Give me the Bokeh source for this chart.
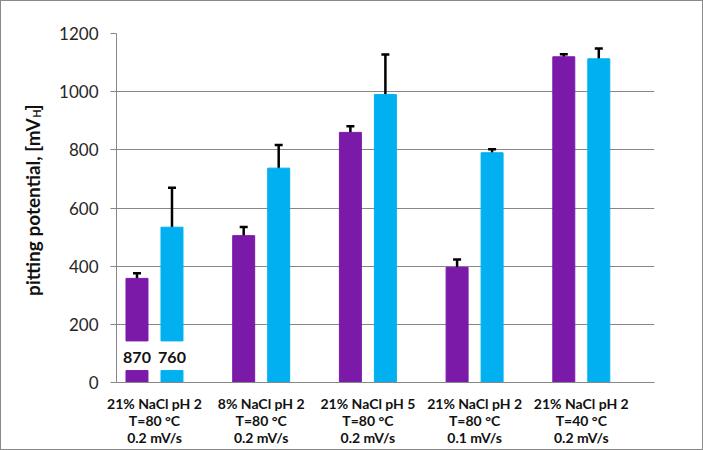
import math
from bokeh.plotting import figure
from bokeh.layouts import row
from bokeh.models import ColumnDataSource, Whisker, TeeHead, FixedTicker, Range1d
from bokeh.core.properties import value
from bokeh.embed import file_html
from bokeh.resources import INLINE

# ---------------- data ----------------
categories = [
    "21% NaCl pH 2\nT=80 °C\n0.2 mV/s",
    "8% NaCl pH 2\nT=80 °C\n0.2 mV/s",
    "21% NaCl pH 5\nT=80 °C\n0.2 mV/s",
    "21% NaCl pH 2\nT=80 °C\n0.1 mV/s",
    "21% NaCl pH 2\nT=40 °C\n0.2 mV/s",
]
# drawn bar heights (first group is shown with a broken bar, true values labelled)
purple_values = [358, 505, 860, 396, 1120]
cyan_values = [534, 737, 990, 790, 1113]
purple_err = [18, 30, 21, 27, 9]
cyan_err = [136, 80, 138, 12, 35]
break_labels_purple = ["870", "", "", "", ""]
break_labels_cyan = ["760", "", "", "", ""]
break_low = 41     # top of lower bar segment in the broken group
break_high = 143   # bottom of upper bar segment in the broken group
y_ticks = [0, 200, 400, 600, 800, 1000, 1200]
y_title = "pitting potential, [mV"
y_title_sub = "H"
y_title_end = "]"

PURPLE = "#7B1AA9"
CYAN = "#00B0F0"
GRID = "#878787"
FONT = "Lato"
TXT = "#111111"

TOTAL_H = 448
LAB_W = 46
MAIN_W = 655

# ---------------- y-axis title panel ----------------
lab = figure(width=LAB_W, height=TOTAL_H, output_backend="svg", toolbar_location=None,
             x_range=Range1d(0, LAB_W), y_range=Range1d(0, TOTAL_H),
             x_axis_type=None, y_axis_type=None, min_border=0)
lab.outline_line_color = None
lab.grid.grid_line_color = None
ang = math.pi / 2
lab.text(x=[30.5], y=[339], text=[y_title], angle=ang, text_align="right",
         text_baseline="alphabetic", text_font=value(FONT), text_font_style="bold",
         text_font_size="19px", text_color=TXT)
lab.text(x=[35], y=[340], text=[y_title_sub], angle=ang, text_align="left",
         text_baseline="alphabetic", text_font=value(FONT), text_font_style="bold",
         text_font_size="11px", text_color=TXT)
lab.text(x=[30.5], y=[349], text=[y_title_end], angle=ang, text_align="left",
         text_baseline="alphabetic", text_font=value(FONT), text_font_style="bold",
         text_font_size="19px", text_color=TXT)

# ---------------- main chart ----------------
p = figure(width=MAIN_W, height=TOTAL_H, output_backend="svg", toolbar_location=None,
           x_range=Range1d(-0.356, 4.686), y_range=Range1d(0, 1200),
           min_border_left=69, min_border_right=48, min_border_top=32,
           min_border_bottom=66)
p.outline_line_color = None

n = len(categories)
xs = list(range(n))
off = 0.164
bw = 0.206

is_broken = [lbl != "" for lbl in break_labels_purple]
bottom_main = [break_high if b else 0 for b in is_broken]

src = ColumnDataSource(dict(
    xp=[x - off for x in xs], xc=[x + off for x in xs],
    pv=purple_values, cv=cyan_values, bot=bottom_main,
    pu=[v + e for v, e in zip(purple_values, purple_err)],
    pl=[v - e for v, e in zip(purple_values, purple_err)],
    cu=[v + e for v, e in zip(cyan_values, cyan_err)],
    cl=[v - e for v, e in zip(cyan_values, cyan_err)],
))

p.vbar(x="xp", top="pv", bottom="bot", width=bw, source=src,
       fill_color=PURPLE, line_color=PURPLE)
p.vbar(x="xc", top="cv", bottom="bot", width=bw, source=src,
       fill_color=CYAN, line_color=CYAN)

# lower segments of broken bars + true-value labels
bx_p = [x - off for x, b in zip(xs, is_broken) if b]
bx_c = [x + off for x, b in zip(xs, is_broken) if b]
if bx_p:
    p.vbar(x=bx_p, top=[break_low] * len(bx_p), bottom=0, width=bw,
           fill_color=PURPLE, line_color=PURPLE)
    p.vbar(x=bx_c, top=[break_low] * len(bx_c), bottom=0, width=bw,
           fill_color=CYAN, line_color=CYAN)
    mid = (break_low + break_high) / 2 - 6
    for bx, labels in ((bx_p, break_labels_purple), (bx_c, break_labels_cyan)):
        p.text(x=bx, y=[mid] * len(bx), text=[t for t in labels if t],
               text_align="center", text_baseline="middle",
               text_font=value(FONT), text_font_style="bold",
               text_font_size="16px", text_color=TXT)

for xcol, up, lo in (("xp", "pu", "pl"), ("xc", "cu", "cl")):
    w = Whisker(source=src, base=xcol, upper=up, lower=lo, dimension="height",
                line_color="black", line_width=2.5,
                upper_head=TeeHead(size=8, line_color="black", line_width=2.5),
                lower_head=TeeHead(size=8, line_color="black", line_width=2.5))
    p.add_layout(w)

# axes
p.yaxis.ticker = FixedTicker(ticks=y_ticks)
p.yaxis.axis_line_color = GRID
p.yaxis.major_tick_line_color = GRID
p.yaxis.major_tick_out = 6
p.yaxis.major_tick_in = 0
p.yaxis.minor_tick_line_color = None
p.yaxis.major_label_text_font = FONT
p.yaxis.major_label_text_font_size = "17px"
p.yaxis.major_label_text_color = "#262626"
p.yaxis.major_label_standoff = 12

p.xaxis.ticker = FixedTicker(ticks=xs)
p.xaxis.major_label_overrides = {i: c for i, c in enumerate(categories)}
p.xaxis.axis_line_color = GRID
p.xaxis.major_tick_line_color = None
p.xaxis.minor_tick_line_color = None
p.xaxis.major_label_text_font = FONT
p.xaxis.major_label_text_font_style = "bold"
p.xaxis.major_label_text_font_size = "14px"
p.xaxis.major_label_text_color = TXT
p.xaxis.major_label_text_line_height = 1.02
p.xaxis.major_label_standoff = 6

p.xgrid.grid_line_color = None
p.ygrid.grid_line_color = GRID
p.ygrid.grid_line_width = 1

layout = row(lab, p, styles={"border": "1px solid #8a8a8a"})

open("out.html", "w").write(file_html(layout, INLINE))
